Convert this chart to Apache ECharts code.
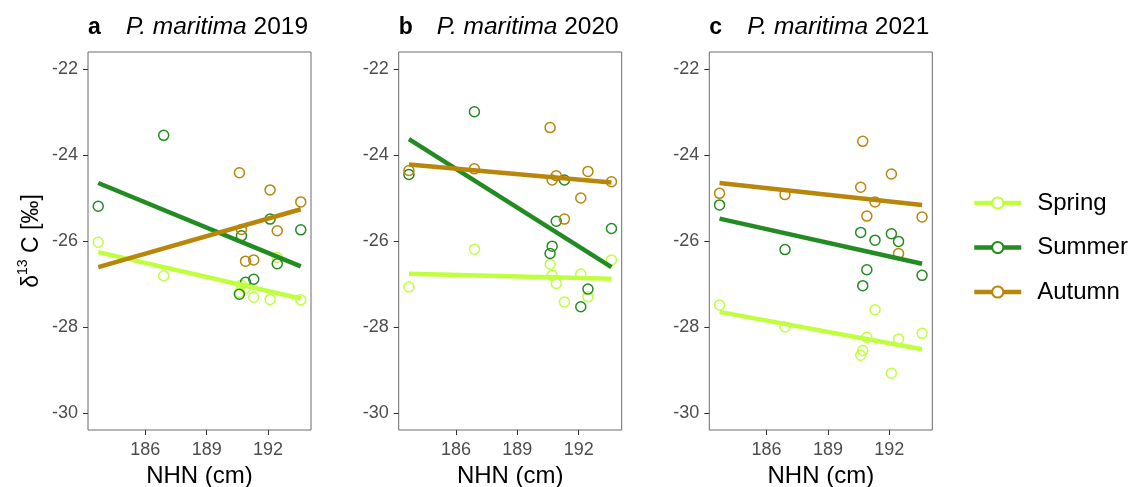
<!DOCTYPE html>
<html>
<head>
<meta charset="utf-8">
<script src="https://cdn.jsdelivr.net/npm/echarts@6/dist/echarts.min.js"></script>
<style>
html,body{margin:0;padding:0;background:#fff;}
#chart{width:1132px;height:487px;}
</style>
</head>
<body>
<div id="chart"></div>
<script>
// ---------- data ----------
const seasons = ['Spring', 'Summer', 'Autumn'];
const seasonColors = ['#C0FF3E', '#228B22', '#B8860B'];
const panelLetters = ['a', 'b', 'c'];
const years = ['2019', '2020', '2021'];
const xTicks = [186, 189, 192];
const yTicks = [-30, -28, -26, -24, -22];

// NHN (cm) of the sampling sites
const nhn = [183.7, 186.9, 190.6, 190.7, 190.9, 191.3, 192.1, 192.45, 193.6];
const nhnAutumn2019 = [190.6, 190.7, 190.9, 191.3, 192.1, 192.45, 193.6];

// delta 13C values
const spring2019 = [-26.03, -26.81, -27.2, -27.03, -27.1, -27.31, -27.36, -26.38, -27.37];
const summer2019 = [-25.19, -23.54, -27.24, -25.88, -26.96, -26.89, -25.49, -26.53, -25.74];
const autumn2019 = [-24.41, -25.73, -26.47, -26.44, -24.81, -25.76, -25.09];

const spring2020 = [-27.07, -26.19, -26.54, -26.80, -26.99, -27.42, -26.77, -27.30, -26.44];
const summer2020 = [-24.45, -22.99, -26.29, -26.12, -25.54, -24.58, -27.53, -27.12, -25.71];
const autumn2020 = [-24.36, -24.32, -23.36, -24.58, -24.48, -25.49, -25.00, -24.38, -24.62];

const spring2021 = [-27.49, -28.00, -28.66, -28.55, -28.24, -27.60, -29.08, -28.28, -28.15];
const summer2021 = [-25.16, -26.20, -25.80, -27.04, -26.67, -25.98, -25.83, -26.01, -26.80];
const autumn2021 = [-24.89, -24.92, -24.75, -23.68, -25.42, -25.09, -24.44, -26.29, -25.44];

// regression line ends (at NHN 183.7 and 193.6)
const fitX = [183.7, 193.6];
const fitSpring2019 = [-26.26, -27.34];
const fitSummer2019 = [-24.65, -26.59];
const fitAutumn2019 = [-26.61, -25.26];
const fitSpring2020 = [-26.76, -26.88];
const fitSummer2020 = [-23.63, -26.61];
const fitAutumn2020 = [-24.22, -24.64];
const fitSpring2021 = [-27.65, -28.52];
const fitSummer2021 = [-25.48, -26.53];
const fitAutumn2021 = [-24.65, -25.16];

// ---------- assembly ----------
const points = [
  [[nhn, spring2019], [nhn, summer2019], [nhnAutumn2019, autumn2019]],
  [[nhn, spring2020], [nhn, summer2020], [nhn, autumn2020]],
  [[nhn, spring2021], [nhn, summer2021], [nhn, autumn2021]]
];
const fits = [
  [fitSpring2019, fitSummer2019, fitAutumn2019],
  [fitSpring2020, fitSummer2020, fitAutumn2020],
  [fitSpring2021, fitSummer2021, fitAutumn2021]
];

const FONT = '"Liberation Sans", Arial, sans-serif';
const gridLefts = [88, 398.7, 709.3];
const grids = [], xAxes = [], yAxes = [], titles = [];
const lineSeries = [], scatterSeries = [];

const zip = (xs, ys) => xs.map((x, i) => [x, ys[i]]);

for (let p = 0; p < 3; p++) {
  grids.push({
    left: gridLefts[p], top: 52, width: 223, height: 378,
    outerBoundsMode: 'none', containLabel: false,
    show: true, borderColor: '#6b6b6b', borderWidth: 1, backgroundColor: '#fff'
  });
  xAxes.push({
    type: 'value', gridIndex: p, min: 183.2, max: 194.1,
    name: 'NHN (cm)', nameLocation: 'middle', nameGap: 27,
    nameTextStyle: { fontSize: 24, color: '#000', fontFamily: FONT },
    axisLine: { show: false },
    splitLine: { show: false },
    axisTick: { show: true, length: 5, customValues: xTicks, lineStyle: { color: '#333', width: 1 } },
    axisLabel: { customValues: xTicks, fontSize: 18, color: '#4d4d4d', margin: 11, fontFamily: FONT }
  });
  const y = {
    type: 'value', gridIndex: p, min: -30.4, max: -21.6,
    axisLine: { show: false },
    splitLine: { show: false },
    axisTick: { show: true, length: 5, customValues: yTicks, lineStyle: { color: '#333', width: 1 } },
    axisLabel: { customValues: yTicks, fontSize: 18, color: '#4d4d4d', margin: 10, fontFamily: FONT }
  };
  if (p === 0) {
    y.name = '{n|δ}{s|13}{n| C [‰]}';
    y.nameLocation = 'middle';
    y.nameRotate = 90;
    y.nameGap = 45;
    y.nameTextStyle = {
      fontFamily: FONT, color: '#000',
      rich: {
        n: { fontSize: 23, lineHeight: 27, verticalAlign: 'bottom', fontFamily: FONT, color: '#000' },
        s: { fontSize: 14, lineHeight: 14, verticalAlign: 'top', fontFamily: FONT, color: '#000' }
      }
    };
  }
  yAxes.push(y);
  titles.push({
    left: gridLefts[p], top: 15, padding: 0,
    text: '{b|' + panelLetters[p] + '}{i|P. maritima}{n| ' + years[p] + '}',
    textStyle: {
      fontWeight: 'normal',
      rich: {
        b: { fontSize: 23, fontWeight: 'bold', width: 38, fontFamily: FONT, color: '#000' },
        i: { fontSize: 24.5, fontStyle: 'italic', fontWeight: 'normal', fontFamily: FONT, color: '#000' },
        n: { fontSize: 24.5, fontWeight: 'normal', fontFamily: FONT, color: '#000' }
      }
    }
  });
  for (let s = 0; s < 3; s++) {
    lineSeries.push({
      type: 'line', name: seasons[s], xAxisIndex: p, yAxisIndex: p,
      data: zip(fitX, fits[p][s]),
      symbol: 'emptyCircle', symbolSize: 10, showSymbol: false,
      lineStyle: { width: 4.5, color: seasonColors[s] },
      itemStyle: { color: seasonColors[s] },
      silent: true, z: 3
    });
    scatterSeries.push({
      type: 'scatter', name: seasons[s], xAxisIndex: p, yAxisIndex: p,
      data: zip(points[p][s][0], points[p][s][1]),
      symbol: 'circle', symbolSize: 10,
      itemStyle: { color: 'rgba(255,255,255,0)', borderColor: seasonColors[s], borderWidth: 1.5, opacity: 1 },
      z: 2
    });
  }
}

const chart = echarts.init(document.getElementById('chart'), null, { renderer: 'canvas' });
chart.setOption({
  animation: false,
  backgroundColor: '#fff',
  title: titles,
  grid: grids,
  xAxis: xAxes,
  yAxis: yAxes,
  legend: {
    orient: 'vertical', left: 972, top: 191, padding: 0,
    data: seasons,
    itemWidth: 47, itemHeight: 14, itemGap: 20.5,
    lineStyle: { width: 4.5 },
    textStyle: { fontSize: 24, color: '#000', fontFamily: FONT, lineHeight: 24, padding: [0, 0, 0, 11] },
    selectedMode: false
  },
  series: lineSeries.concat(scatterSeries)
});
</script>
</body>
</html>
